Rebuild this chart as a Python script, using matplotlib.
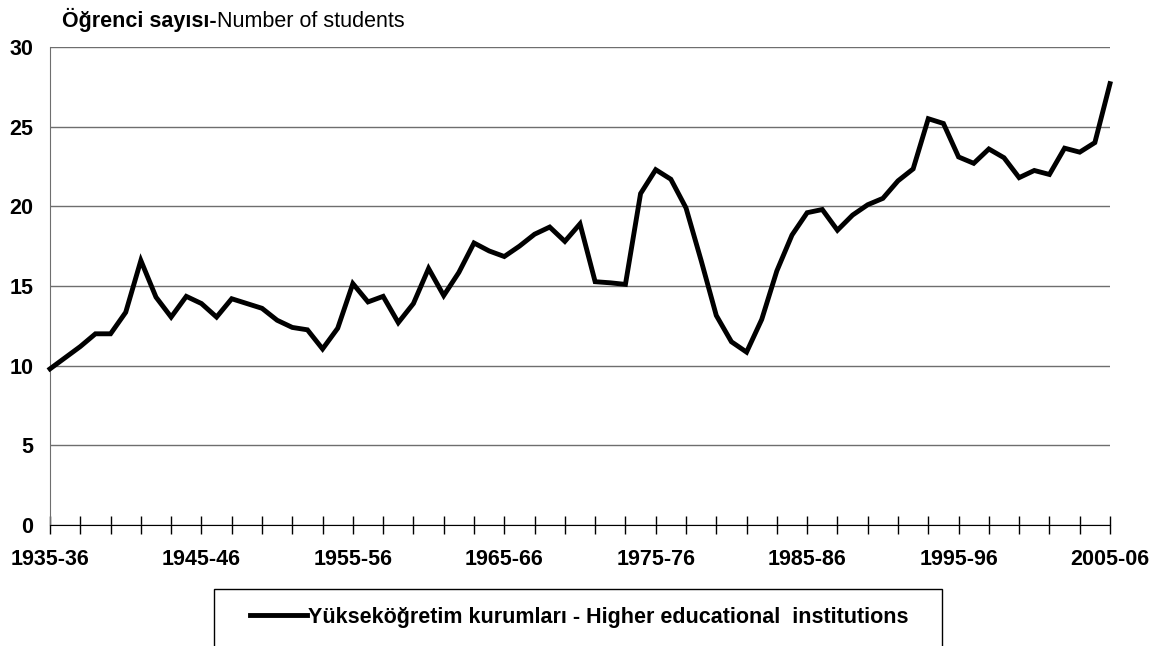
# Number of students per teaching staff, higher education, 1935-36 to 2005-06
import numpy as np
import matplotlib
matplotlib.use('Agg')
import matplotlib.pyplot as plt
from matplotlib.patches import Rectangle

plt.rcParams['font.family'] = ['Liberation Sans', 'DejaVu Sans']

# data
years = list(range(1935, 2006))
students = [9.8, 10.5, 11.2, 12.0, 12.0, 13.35, 16.6, 14.3, 13.05, 14.35,
            13.9, 13.05, 14.2, 13.9, 13.6, 12.85, 12.4, 12.25, 11.05, 12.35,
            15.15, 14.0, 14.35, 12.7, 13.9, 16.1, 14.4, 15.85, 17.7, 17.2,
            16.85, 17.5, 18.25, 18.7, 17.8, 18.9, 15.27, 15.2, 15.1, 20.8,
            22.3, 21.7, 19.9, 16.6, 13.15, 11.5, 10.85, 12.9, 15.95, 18.2,
            19.6, 19.8, 18.5, 19.45, 20.1, 20.5, 21.6, 22.35, 25.5, 25.2,
            23.1, 22.7, 23.6, 23.05, 21.8, 22.25, 22.0, 23.65, 23.4, 24.0,
            27.7]
tick_years = list(range(1935, 2006, 2))
label_years = [1935, 1945, 1955, 1965, 1975, 1985, 1995, 2005]
yticks = [0, 5, 10, 15, 20, 25, 30]
series_name = 'Yükseköğretim kurumları - Higher educational  institutions'

FS = 15.5
W, H = 1161, 646
fig = plt.figure(figsize=(W / 100, H / 100), dpi=100)
ax = fig.add_axes([50 / W, 1 - 525 / H, (1110 - 50) / W, (525 - 47) / H])

ax.plot(years, students, color='black', lw=3.5, solid_joinstyle='miter',
        label=series_name, clip_on=False, zorder=3)

ax.set_xlim(1935, 2005)
ax.set_ylim(0, 30)
ax.set_yticks(yticks)
ax.set_yticklabels([str(v) for v in yticks], fontsize=FS, fontweight='bold')
ax.yaxis.grid(True, color='#6e6e6e', lw=1)
ax.set_axisbelow(True)
ax.tick_params(axis='y', length=0, pad=12)

ax.set_xticks(tick_years)
ax.set_xticklabels([f'{y}-{str(y + 1)[-2:]}' if y in label_years else '' for y in tick_years],
                   fontsize=FS, fontweight='bold')
ax.tick_params(axis='x', direction='inout', length=13, width=1, color='black', pad=11)

for s in ['top', 'right']:
    ax.spines[s].set_visible(False)
ax.spines['left'].set_color('#6e6e6e')
ax.spines['bottom'].set_color('black')

# title in two weights
t1 = fig.text(62 / W, 1 - 27 / H, 'Öğrenci sayısı-', fontsize=FS,
              fontweight='bold', va='baseline')
fig.canvas.draw()
bb = t1.get_window_extent()
fig.text(bb.x1 / W, 1 - 27 / H, 'Number of students', fontsize=FS, va='baseline')

# legend box (bottom runs off the figure like in the original)
fig.patches.append(Rectangle((214 / W, 1 - 680 / H), (942 - 214) / W, (680 - 589) / H,
                             transform=fig.transFigure, fill=False,
                             edgecolor='black', lw=1))
fs_px = FS * 100 / 72
ax.legend(loc='center left', bbox_to_anchor=(250 / W, 1 - 617 / H),
          bbox_transform=fig.transFigure, frameon=False, borderpad=0,
          borderaxespad=0, handlelength=57 / fs_px, handletextpad=0.05,
          prop={'size': FS, 'weight': 'bold'})

fig.savefig('out.png', dpi=100)
